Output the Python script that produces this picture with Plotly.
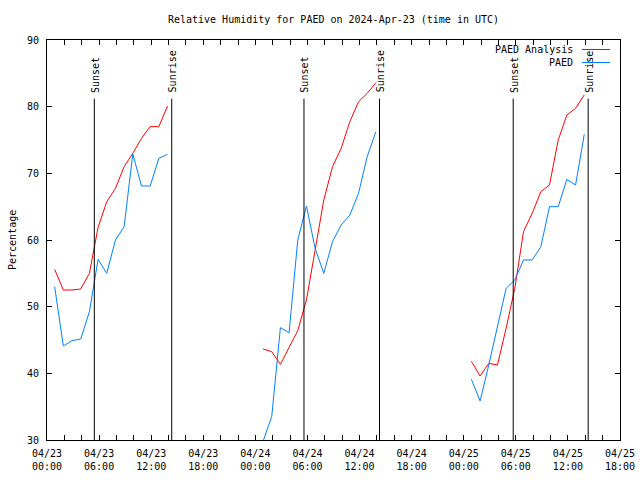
import pandas as pd
import plotly.graph_objects as go

# hourly observation times (hh:53 UTC), 2024-04-23 00:53 .. 2024-04-25 13:53
obs_start = "2024-04-23 00:53"
n_hours = 62

analysis_rh = [
    55.6, 52.5, 52.5, 52.65, 55.0, 61.9, 65.75, 67.75, 71.0, 73.0, 75.25, 77.0, 77.0, 80.1,
    None, None, None, None, None, None, None, None, None, None,
    43.65, 43.25, 41.35, 44.0, 46.4, 51.0, 58.5, 66.0, 71.0, 73.75, 77.75, 80.75, 82.0, 83.6,
    None, None, None, None, None, None, None, None, None, None,
    41.8, 39.6, 41.5, 41.25, 46.75, 52.75, 61.25, 64.0, 67.25, 68.25, 75.0, 78.75, 79.75, 81.75,
]

obs_rh = [
    53.0, 44.1, 44.9, 45.15, 49.25, 57.1, 55.0, 60.0, 62.0, 72.9, 68.1, 68.1, 72.25, 72.85,
    None, None, None, None, None, None, None, None, None, None,
    29.8, 33.5, 46.85, 46.1, 60.0, 65.1, 58.75, 55.0, 59.75, 62.25, 63.75, 67.0, 72.5, 76.25,
    None, None, None, None, None, None, None, None, None, None,
    39.1, 35.85, 41.25, 47.0, 52.75, 54.0, 57.0, 57.0, 59.0, 65.0, 65.0, 69.1, 68.25, 75.85,
]

sunsets = ["2024-04-23 05:27", "2024-04-24 05:36", "2024-04-25 05:42"]
sunrises = ["2024-04-23 14:22", "2024-04-24 14:18", "2024-04-25 14:20"]

series_names = ["PAED Analysis", "PAED"]
series_colors = ["#ff0000", "#0080ff"]

x_range = ["2024-04-23 00:00", "2024-04-25 18:00"]
y_range = [30, 90]
marker_top = 81.2

times = pd.date_range(obs_start, periods=n_hours, freq="h")

FONT = "DejaVu Sans Mono"

fig = go.Figure()
for name, vals, col in zip(series_names, [analysis_rh, obs_rh], series_colors):
    fig.add_trace(go.Scatter(x=times, y=vals, mode="lines", name=name,
                             line=dict(color=col, width=1), connectgaps=False,
                             showlegend=False))

shapes = []
annotations = []
for t_list, label in [(sunsets, "Sunset"), (sunrises, "Sunrise")]:
    for t in t_list:
        shapes.append(dict(type="line", xref="x", yref="y", x0=t, x1=t,
                           y0=y_range[0], y1=marker_top,
                           line=dict(color="black", width=1)))
        annotations.append(dict(x=t, y=marker_top, xref="x", yref="y", text=label,
                                textangle=-90, showarrow=False, xanchor="center",
                                yanchor="bottom", yshift=4, xshift=1,
                                font=dict(family=FONT, size=10, color="black")))

# legend drawn gnuplot-style (text then line sample)
L, R, T, B = 47, 620, 40, 440
def px(x):
    return (x - L) / (R - L)
def py(y):
    return (B - y) / (B - T)

for i, (name, col) in enumerate(zip(series_names, series_colors)):
    yy = 49.5 + 13 * i
    annotations.append(dict(x=px(575), y=py(yy), xref="paper", yref="paper", text=name,
                            showarrow=False, xanchor="right", yanchor="middle",
                            font=dict(family=FONT, size=10, color="black")))
    shapes.append(dict(type="line", xref="paper", yref="paper", x0=px(582), x1=px(610),
                       y0=py(yy), y1=py(yy), line=dict(color=col, width=1)))

annotations.append(dict(x=px(12), y=0.5, xref="paper", yref="paper", text="Percentage",
                        textangle=-90, showarrow=False, xanchor="center", yanchor="middle",
                        font=dict(family=FONT, size=10, color="black")))

fig.update_layout(
    width=640, height=480,
    margin=dict(l=L, r=640 - R, t=T, b=480 - B, autoexpand=False),
    paper_bgcolor="white", plot_bgcolor="white",
    font=dict(family=FONT, size=10, color="black"),
    title=dict(text="Relative Humidity for PAED on 2024-Apr-23 (time in UTC)",
               x=0.5, xref="paper", y=1 - 19 / 480, yanchor="middle",
               font=dict(family=FONT, size=10, color="black")),
    shapes=shapes, annotations=annotations,
    showlegend=False,
)
fig.update_xaxes(range=x_range, type="date", dtick=6 * 3600000, tick0="2024-04-23 00:00",
                 tickformat="%m/%d<br>%H:%M", ticks="inside", ticklen=5, tickcolor="black",
                 showline=True, linecolor="black", linewidth=1, mirror="allticks",
                 showgrid=False, zeroline=False, ticklabelstandoff=4,
                 minor=dict(dtick=2 * 3600000, tick0="2024-04-23 00:00", ticks="inside",
                            ticklen=5, tickcolor="black", showgrid=False),
                 tickfont=dict(family=FONT, size=10, color="black"))
fig.update_yaxes(range=y_range, dtick=10, ticks="inside", ticklen=5, tickcolor="black",
                 showline=True, linecolor="black", linewidth=1, mirror="allticks",
                 showgrid=False, zeroline=False, ticklabelstandoff=5,
                 tickfont=dict(family=FONT, size=10, color="black"))

fig.write_html("out.html", config={"displayModeBar": False},
               post_script="document.body.style.margin='0';document.body.style.padding='0';")
